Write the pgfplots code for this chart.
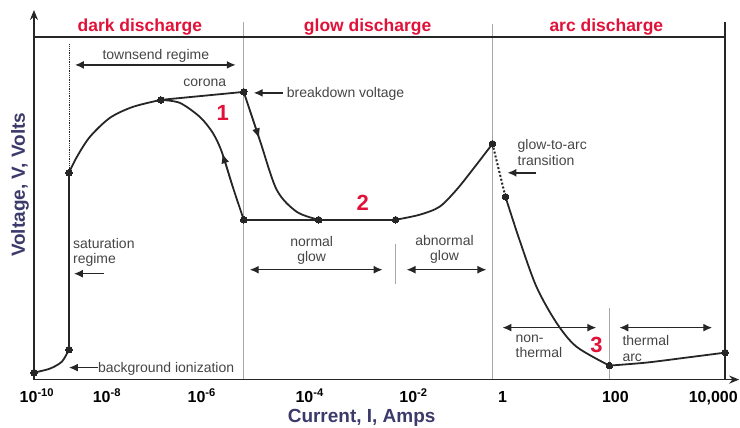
\documentclass[border=0pt]{standalone}
\usepackage{fontspec}
\setmainfont{Liberation Sans}
\setsansfont{Liberation Sans}
\usepackage{pgfplots}
\pgfplotsset{compat=1.18}
\usetikzlibrary{arrows.meta}
\definecolor{curve}{HTML}{262626}
\definecolor{sep}{HTML}{A8A8A8}
\definecolor{redt}{HTML}{E0123A}
\definecolor{navy}{HTML}{3B3A6A}
\definecolor{annot}{HTML}{454545}
\tikzset{
  ann/.style={font=\fontsize{14}{16}\selectfont, text=annot, inner sep=0pt},
  ttl/.style={font=\fontsize{17.5}{20}\selectfont\bfseries, text=redt, inner sep=0pt, anchor=base},
  num/.style={font=\fontsize{22}{24}\selectfont\bfseries, text=redt, inner sep=0pt, anchor=center},
  arr/.style={-{Latex[length=9pt,width=8pt]}, line width=1.4pt, draw=curve},
  darr/.style={{Latex[length=9pt,width=8pt]}-{Latex[length=9pt,width=8pt]}, line width=1.4pt, draw=curve},
}
\begin{document}
\begin{tikzpicture}
\begin{axis}[
  x=1pt, y=1pt,
  xmin=34, xmax=726, ymin=0, ymax=343,
  axis line style={draw=none},
  clip=false,
  ytick=\empty,
  xtick={37,107,202,310,414,503,616,714},
  xticklabels={10\textsuperscript{-10},10\textsuperscript{-8},10\textsuperscript{-6},10\textsuperscript{-4},10\textsuperscript{-2},1,100,{10,000}},
  major tick length=0pt,
  xtick pos=bottom,
  xticklabel style={font=\fontsize{16}{18}\selectfont\bfseries, anchor=base, yshift=-23pt, inner sep=0pt},
  xlabel={Current, I, Amps},
  xlabel style={at={(axis description cs:0.474,-0.1254)}, anchor=base, inner sep=0pt, font=\fontsize{19}{22}\selectfont\bfseries, text=navy},
  ylabel={Voltage, V, Volts},
  ylabel style={at={(axis description cs:-0.0202,0.5685)}, anchor=center, inner sep=0pt, font=\fontsize{19}{22}\selectfont\bfseries, text=navy},
  every axis plot/.append style={line width=1.8pt, color=curve},
]
% bounding box
\path[draw=none] (axis cs:0,-48) rectangle (axis cs:740,380);
% frame
\draw[sep, line width=1.2pt] (axis cs:244,0) -- (axis cs:244,358);
\draw[sep, line width=1.2pt] (axis cs:493,0) -- (axis cs:493,356);
\draw[sep, line width=1.2pt] (axis cs:396,136) -- (axis cs:396,96);
\draw[sep, line width=1.2pt] (axis cs:610,0) -- (axis cs:610,72);
\draw[curve, line width=1.6pt] (axis cs:34,343) -- (axis cs:726,343);
\draw[curve, line width=1.6pt] (axis cs:726,0) -- (axis cs:726,358);
\draw[curve, line width=1.6pt, -{Stealth[length=10pt,width=8pt]}] (axis cs:34,0) -- (axis cs:34,370);
\draw[curve, line width=1.6pt, -{Stealth[length=10pt,width=8pt]}] (axis cs:34,0) -- (axis cs:740,0);
\draw[curve, line width=0.8pt, densely dotted] (axis cs:69,207) -- (axis cs:69,336);

% curve segments
\addplot[smooth] coordinates {(34,7) (50,11) (62,18) (69,30)};
\addplot[sharp plot] coordinates {(69,30) (69,207)};
\addplot[smooth] coordinates {(69,207) (77,223) (90,243) (110,262) (133,273) (161,280)};
\addplot[sharp plot] coordinates {(161,280) (244,288)};
\addplot[smooth] coordinates {(244,160) (233,193) (222,228) (213,247) (200,263) (180,277) (161,280)};
\addplot[sharp plot, line width=1.2pt, -{Latex[length=10pt,width=8pt]}] coordinates {(232.5,194.5) (222.5,226.5)};
\addplot[smooth] coordinates {(244,288) (260,240) (277,190) (297,168) (319,160)};
\addplot[sharp plot, line width=1.2pt, -{Latex[length=10pt,width=8pt]}] coordinates {(250,270) (259.5,241.5)};
\addplot[sharp plot] coordinates {(244,160) (396,160)};
\addplot[smooth] coordinates {(396,160) (420,165) (440,173) (457,190) (473,210) (493,236)};
\addplot[sharp plot, line width=2pt, dotted] coordinates {(493,236) (506,183)};
\addplot[smooth] coordinates {(506,183) (520,140) (537,93) (557,57) (577,33) (610,14)};
\addplot[smooth] coordinates {(610,14) (647,17) (687,22) (726,27)};
\addplot[only marks, mark=*, mark size=3.3pt, mark options={fill=curve, draw=curve, line width=0pt}]
  coordinates {(34,7) (69,30) (69,207) (161,280) (244,288) (244,160) (319,160) (396,160) (493,236) (506,183) (610,14) (726,27)};

% titles
\node[ttl] at (axis cs:140,348) {dark discharge};
\node[ttl] at (axis cs:368,348) {glow discharge};
\node[ttl] at (axis cs:607,348) {arc discharge};
% numbers
\node[num] at (axis cs:223,267) {1};
\node[num] at (axis cs:363,177) {2};
\node[num] at (axis cs:597,35) {3};
% annotations
\node[ann, anchor=base] at (axis cs:156,320) {townsend regime};
\draw[darr] (axis cs:75,315) -- (axis cs:236,315);
\node[ann, anchor=base] at (axis cs:205,293) {corona};
\node[ann, anchor=base west] at (axis cs:287,282) {breakdown voltage};
\draw[arr] (axis cs:283,287) -- (axis cs:254,287);
\node[ann, anchor=base west] at (axis cs:73,131) {saturation};
\node[ann, anchor=base west] at (axis cs:73,116) {regime};
\draw[arr] (axis cs:104,106) -- (axis cs:74,106);
\node[ann, anchor=base west] at (axis cs:98,7) {background ionization};
\draw[arr] (axis cs:98,12) -- (axis cs:69,12);
\node[ann, anchor=base] at (axis cs:312,133) {normal};
\node[ann, anchor=base] at (axis cs:312,118) {glow};
\draw[darr] (axis cs:250,110) -- (axis cs:383,110);
\node[ann, anchor=base] at (axis cs:445,134) {abnormal};
\node[ann, anchor=base] at (axis cs:445,119) {glow};
\draw[darr] (axis cs:407,110) -- (axis cs:487,110);
\node[ann, anchor=base west] at (axis cs:518,230) {glow-to-arc};
\node[ann, anchor=base west] at (axis cs:518,214) {transition};
\draw[arr] (axis cs:537,207) -- (axis cs:508,207);
\draw[darr] (axis cs:503,52) -- (axis cs:597,52);
\node[ann, anchor=base west] at (axis cs:516,37) {non-};
\node[ann, anchor=base west] at (axis cs:516,22) {thermal};
\draw[darr] (axis cs:620,52) -- (axis cs:713,52);
\node[ann, anchor=base west] at (axis cs:623,34) {thermal};
\node[ann, anchor=base west] at (axis cs:623,18) {arc};
\end{axis}
\end{tikzpicture}
\end{document}
